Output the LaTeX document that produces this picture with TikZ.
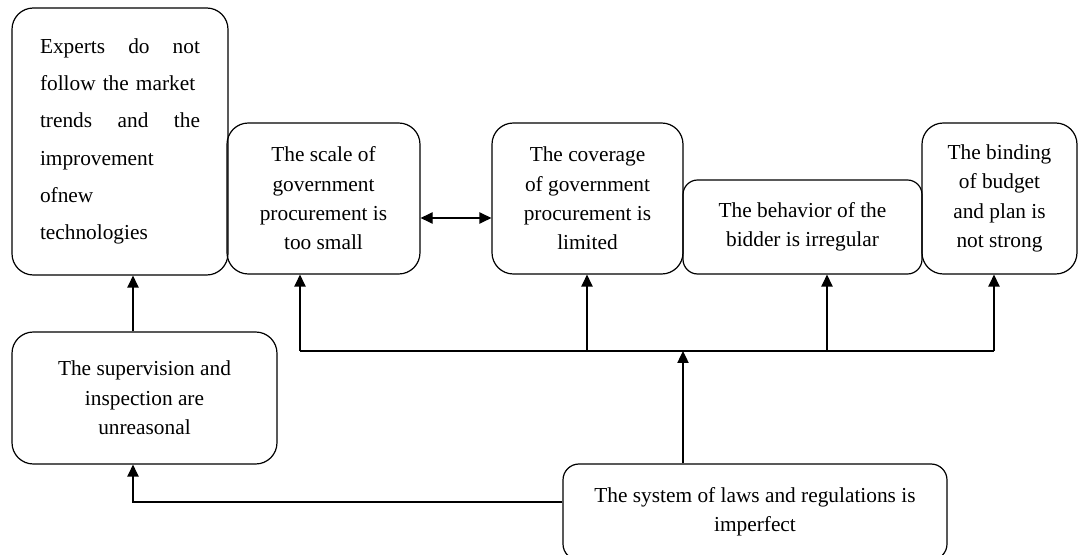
\documentclass[tikz,border=0pt]{standalone}
\usepackage{fontspec}
\setmainfont{Liberation Serif}
\usetikzlibrary{arrows.meta}
\tikzset{
  box/.style={draw, rounded corners=16pt, line width=0.9pt, inner sep=0pt, align=center, font=\fontsize{16}{22}\selectfont},
  link/.style={line width=0.9pt},
  arr/.style={link, -{Triangle[length=9pt,width=8.5pt]}},
  dblarr/.style={link, {Triangle[length=9pt,width=8.5pt]}-{Triangle[length=9pt,width=8.5pt]}}
}
\begin{document}
\begin{tikzpicture}[x=0.75pt,y=-0.75pt]
			\useasboundingbox (0,0) rectangle (1082,555);

			% upper row
			\node[box, minimum width=162pt, minimum height=200.25pt, text width=120pt, align=left, font=\fontsize{16}{28}\selectfont] (experts) at (120,141.5) {Experts\hfill do\hfill not\\ follow the market\\ trends\hfill and\hfill the\\ improvement\\ ofnew\\ technologies};
			\node[box, minimum width=144.75pt, minimum height=113.25pt] (scale) at (323.5,198.5) {The scale of\\ government\\ procurement is\\ too small};
			\node[box, minimum width=143.25pt, minimum height=113.25pt] (coverage) at (587.5,198.5) {The coverage\\ of government\\ procurement is\\ limited};
			\node[box, rounded corners=11pt, minimum width=179.25pt, minimum height=70.5pt] (behavior) at (802.5,227) {The behavior of the\\ bidder is irregular};
			\node[box, minimum width=116.25pt, minimum height=113.25pt] (binding) at (999.5,198.5) {The binding\\ of budget\\ and plan is\\ not strong};

			% lower row
			\node[box, minimum width=198.75pt, minimum height=99pt] (supervision) at (144.5,398) {The supervision and\\ inspection are\\ unreasonal};
			\node[box, rounded corners=12pt, minimum width=288pt, minimum height=72pt] (system) at (755,512) {The system of laws and regulations is\\ imperfect};

			\coordinate (bus) at (683,351);
			\coordinate (b1) at (300,351);
			\coordinate (b2) at (587,351);
			\coordinate (b3) at (827,351);
			\coordinate (b4) at (994,351);
			\coordinate (up) at (133,303);
			\coordinate (mid) at (455,218);
			\coordinate (low) at (0,502);

			\draw[arr] (system.north -| bus) -- (bus);
			\draw[link] (b1) -- (b4);
			\foreach \b/\n in {b1/scale, b2/coverage, b3/behavior, b4/binding}
			\draw[arr] (\b) -- (\b |- \n.south);

			\draw[arr] (system.west |- low) -| (up |- supervision.south);
			\draw[arr] (up |- supervision.north) -- (up |- experts.south);
			\draw[dblarr] (scale.east |- mid) -- (coverage.west |- mid);
		\end{tikzpicture}
\end{document}
